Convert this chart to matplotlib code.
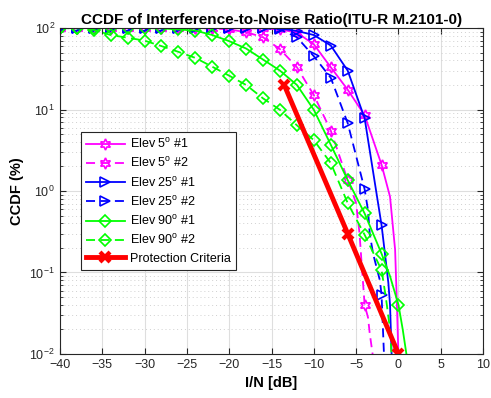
import numpy as np
import matplotlib
matplotlib.use("Agg")
import matplotlib.pyplot as plt
from matplotlib.ticker import LogLocator, NullFormatter

plt.rcParams['font.family'] = ['Liberation Sans', 'DejaVu Sans']
plt.rcParams['mathtext.fontset'] = 'custom'
plt.rcParams['mathtext.rm'] = 'Liberation Sans'
plt.rcParams['mathtext.it'] = 'Liberation Sans:italic'
plt.rcParams['mathtext.bf'] = 'Liberation Sans:bold'

# Elev 5 #1
x5a = [-40, -38, -36, -34, -32, -30, -28, -26, -24, -22, -20, -18, -16, -14, -12, -10,
       -8, -6, -4, -2, -1, -0.4, -0.2, 0]
y5a = [100, 100, 100, 100, 100, 100, 100, 100, 100, 100, 100, 99.5, 99, 96, 88, 63,
       33, 17.5, 8.5, 2.1, 0.85, 0.19, 0.045, 0.009]
# Elev 5 #2
x5b = [-40, -38, -36, -34, -32, -30, -28, -26, -24, -22, -20, -18, -16, -14, -12, -10,
       -8, -6, -5.5, -5, -4.6, -4.4, -4, -3.6, -3.4, -3]
y5b = [100, 100, 100, 100, 100, 100, 100, 100, 99.5, 99, 96, 89, 77, 55, 33, 15,
       5.5, 1.36, 1.0, 0.7, 0.3, 0.15, 0.04, 0.028, 0.018, 0.009]
# Elev 25 #1
x25a = [-40, -38, -36, -34, -32, -30, -28, -26, -24, -22, -20, -18, -16, -14, -12, -10,
        -8, -6, -4, -2, -1.6, -1.2, -1.0, -0.8]
y25a = [100, 100, 100, 100, 100, 100, 100, 100, 100, 100, 100, 100, 100, 99, 92, 82,
        61, 30, 7.8, 0.38, 0.17, 0.075, 0.04, 0.009]
# Elev 25 #2
x25b = [-40, -38, -36, -34, -32, -30, -28, -26, -24, -22, -20, -18, -16, -14, -12, -10,
        -8, -6, -4, -3.6, -3.4, -3, -2.2, -2, -1.7]
y25b = [100, 100, 100, 100, 100, 100, 100, 100, 100, 100, 100, 100, 99.5, 96, 77, 45,
        24.5, 6.8, 1.05, 0.58, 0.3, 0.17, 0.08, 0.053, 0.009]
# Elev 90 #1
x90a = [-40, -38, -36, -34, -32, -30, -28, -26, -24, -22, -20, -18, -16, -14, -12, -10,
        -8, -6, -4, -2, -1, 0, 0.5, 1]
y90a = [100, 100, 100, 100, 100, 100, 99, 96, 93, 82, 69, 56, 41, 30, 20, 9.9,
        3.7, 1.36, 0.53, 0.17, 0.09, 0.04, 0.02, 0.009]
# Elev 90 #2
x90b = [-40, -38, -36, -34, -32, -30, -28, -26, -24, -22, -20, -18, -16, -14, -12, -10,
        -8, -6, -4, -2, -1.5, -1, -0.8]
y90b = [100, 99, 95, 82, 76, 70, 60, 51, 43, 33.5, 26, 20, 13.7, 9.9, 6.4, 4.2,
        2.2, 0.71, 0.29, 0.107, 0.05, 0.02, 0.009]
# protection criteria
xpc = [-13.5, -6, 0]
ypc = [20, 0.3, 0.01]

labels = [r'Elev 5$^{\mathrm{o}}$ #1', r'Elev 5$^{\mathrm{o}}$ #2',
          r'Elev 25$^{\mathrm{o}}$ #1', r'Elev 25$^{\mathrm{o}}$ #2',
          r'Elev 90$^{\mathrm{o}}$ #1', r'Elev 90$^{\mathrm{o}}$ #2',
          'Protection Criteria']

hexagram = (6, 1, 0)


def even_mask(x):
    return [float(v).is_integer() and int(v) % 2 == 0 for v in x]


fig = plt.figure(figsize=(4.91, 3.98), dpi=100)
ax = fig.add_axes([0.122, 0.1106, 0.862, 0.819])

series = [
    (x5a, y5a, '#ff00ff', '-', hexagram, 8),
    (x5b, y5b, '#ff00ff', '--', hexagram, 8),
    (x25a, y25a, '#0000ff', '-', '>', 7),
    (x25b, y25b, '#0000ff', '--', '>', 7),
    (x90a, y90a, '#00ff00', '-', 'D', 6.5),
    (x90b, y90b, '#00ff00', '--', 'D', 6.5),
]
for (x, y, c, ls, m, ms), lab in zip(series, labels):
    ax.plot(x, y, color=c, ls=ls, lw=1.3, marker=m, ms=ms, mfc='none', mec=c,
            mew=1.2, markevery=even_mask(x), label=lab,
            dashes=(5, 3) if ls == '--' else (None, None))

ax.plot(xpc, ypc, color='#ff0000', lw=3.5, marker='x', ms=7, mew=3, label=labels[-1])

ax.set_yscale('log')
ax.set_xlim(-40, 10)
ax.set_ylim(1e-2, 1e2)
ax.set_xticks(np.arange(-40, 11, 5))
ax.set_yticks([1e-2, 1e-1, 1e0, 1e1, 1e2])
ax.set_yticklabels([r'$10^{-2}$', r'$10^{-1}$', r'$10^{0}$', r'$10^{1}$', r'$10^{2}$'])
ax.yaxis.set_minor_locator(LogLocator(base=10, subs=np.arange(2, 10)))
ax.yaxis.set_minor_formatter(NullFormatter())

ax.grid(True, which='major', color='#dedede', lw=0.8)
ax.grid(True, which='minor', axis='y', color='#d0d0d0', lw=0.7, ls=(0, (1, 3)))
ax.set_axisbelow(True)
ax.tick_params(which='both', direction='in', top=True, right=True, colors='#262626',
               labelsize=9)
ax.tick_params(which='major', length=4)
ax.tick_params(which='minor', length=2)
for sp in ax.spines.values():
    sp.set_color('#262626')
    sp.set_linewidth(0.8)

ax.set_title('CCDF of Interference-to-Noise Ratio(ITU-R M.2101-0)', fontsize=11,
             fontweight='bold', pad=3)
ax.set_xlabel('I/N [dB]', fontsize=10.5, fontweight='bold')
ax.set_ylabel('CCDF (%)', fontsize=10.5, fontweight='bold')

leg = ax.legend(loc='upper left', bbox_to_anchor=(0.035, 0.7), fontsize=9,
                handlelength=3.1, borderpad=0.4, labelspacing=0.42,
                handletextpad=0.4, fancybox=False, framealpha=1,
                edgecolor='#262626')
leg.get_frame().set_linewidth(0.8)

fig.savefig('out.png', dpi=100)
